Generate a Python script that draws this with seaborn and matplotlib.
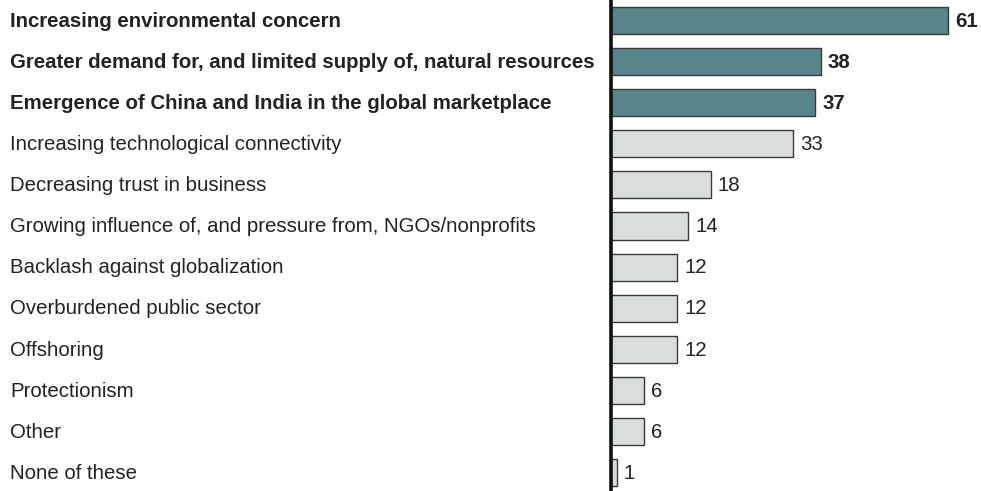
import matplotlib
matplotlib.use("Agg")
import matplotlib.pyplot as plt
import matplotlib.transforms as mtransforms
import seaborn as sns
import pandas as pd

categories = [
    "Increasing environmental concern",
    "Greater demand for, and limited supply of, natural resources",
    "Emergence of China and India in the global marketplace",
    "Increasing technological connectivity",
    "Decreasing trust in business",
    "Growing influence of, and pressure from, NGOs/nonprofits",
    "Backlash against globalization",
    "Overburdened public sector",
    "Offshoring",
    "Protectionism",
    "Other",
    "None of these",
]
values = [61, 38, 37, 33, 18, 14, 12, 12, 12, 6, 6, 1]
highlight = [True, True, True, False, False, False, False, False, False, False, False, False]

TEAL = "#4F8B93"
GREY = "#D9DEDE"
EDGE = "#3A3A3A"

df = pd.DataFrame({"category": categories, "value": values,
                   "group": ["top" if h else "other" for h in highlight]})

sns.set_theme(style="white")
plt.rcParams["font.family"] = ["Liberation Sans", "DejaVu Sans"]

fig = plt.figure(figsize=(9.81, 4.91), dpi=100)
ax = fig.add_axes([0.623, 0.0, 0.377, 1.0])

sns.barplot(data=df, y="category", x="value", hue="group",
            palette={"top": TEAL, "other": GREY}, orient="h",
            dodge=False, width=0.66, edgecolor=EDGE, linewidth=1.0,
            legend=False, ax=ax)

ax.set_xlim(0, 67.0)
ax.set_ylim(11.45, -0.5)
ax.set_xlabel("")
ax.set_ylabel("")
ax.set_xticks([])
ax.set_yticks([])
for side in ["top", "right", "bottom"]:
    ax.spines[side].set_visible(False)
ax.spines["left"].set_color("#111111")
ax.spines["left"].set_linewidth(2.6)

label_tf = mtransforms.blended_transform_factory(fig.transFigure, ax.transData)
for i, (cat, val, hl) in enumerate(zip(categories, values, highlight)):
    weight = "bold" if hl else "normal"
    ax.text(10 / 981, i + 0.02, cat, transform=label_tf, ha="left", va="center",
            fontsize=14.7, fontweight=weight, color="#222222", clip_on=False)
    ax.annotate(str(val), xy=(val, i + 0.02), xytext=(5, 0), textcoords="offset points",
                ha="left", va="center", fontsize=14.7, fontweight=weight,
                color="#222222")

fig.savefig("out.png", dpi=100)
